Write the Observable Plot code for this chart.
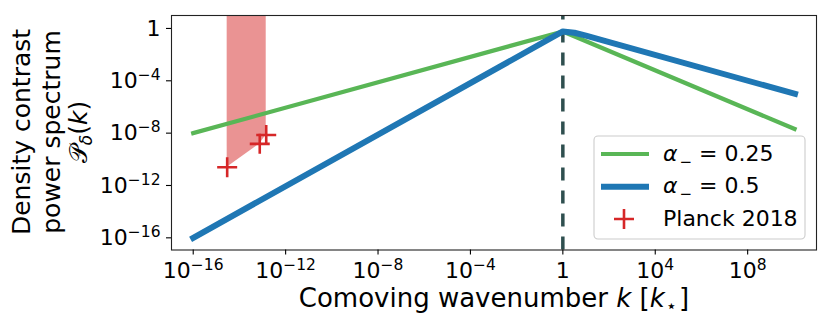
<!DOCTYPE html>
<html><head><meta charset="utf-8">
<script src="https://cdn.jsdelivr.net/npm/d3@7"></script>
<script src="https://cdn.jsdelivr.net/npm/@observablehq/plot@0.6"></script>
<style>body{margin:0;background:#fff} svg{font-family:"DejaVu Sans",sans-serif}</style>
</head><body><div id="chart"></div>
<script>
// ---- data ----
const kGreen = [1e-16, 1, 10 ** 10.03];
const pGreen = [10 ** -8.0, 10 ** -0.23, 10 ** -7.68];
const kBlue = [1e-16, 1, 10 ** 0.5, 10 ** 1, 10 ** 1.5, 10 ** 10.05];
const pBlue = [10 ** -16, 10 ** -0.23, 10 ** -0.33, 10 ** -0.55, 10 ** -0.8, 10 ** -5.0];
const planckK = [10 ** -14.53, 10 ** -13.12, 10 ** -12.84];
const planckP = [10 ** -10.61, 10 ** -8.82, 10 ** -8.14];
const kStar = [1];
const seriesNames = ["0.25", "0.5"];
const planckName = "Planck 2018";
const xTicks = [1e-16, 1e-12, 1e-8, 1e-4, 1, 1e4, 1e8];
const xTickLabels = ["10^−16", "10^−12", "10^−8", "10^−4", "1", "10^4", "10^8"];
const yTicks = [1e-16, 1e-12, 1e-8, 1e-4, 1];
const yTickLabels = ["10^−16", "10^−12", "10^−8", "10^−4", "1"];

const GREEN = "#59b656", BLUE = "#1f77b4", RED = "#d62728", DASH = "#2f4f4f";
const xDomain = [10 ** -16.94, 10 ** 10.98];
const yDomain = [10 ** -16.93, 10 ** 0.99];

const green = kGreen.map((k, i) => ({k, p: pGreen[i]}));
const blue = kBlue.map((k, i) => ({k, p: pBlue[i]}));
const planck = planckK.map((k, i) => ({k, p: planckP[i]}));

const plus = {draw(ctx, size) { const h = Math.sqrt(size / Math.PI); ctx.moveTo(-h, 0); ctx.lineTo(h, 0); ctx.moveTo(0, -h); ctx.lineTo(0, h); }};

const plot = Plot.plot({
  width: 830, height: 325,
  marginLeft: 171, marginRight: 14, marginTop: 15, marginBottom: 75.5,
  style: {fontFamily: "DejaVu Sans, sans-serif", fontSize: "22px", color: "#000", background: "#fff", overflow: "visible"},
  x: {type: "log", domain: xDomain},
  y: {type: "log", domain: yDomain},
  marks: [
    Plot.areaY(planck, {x: "k", y1: "p", y2: () => 1e4, fill: RED, fillOpacity: 0.5, clip: true, curve: "linear"}),
    Plot.ruleX(kStar, {x: d => d, y1: yDomain[0], y2: yDomain[1], stroke: DASH, strokeWidth: 3.5, strokeDasharray: "13,10"}),
    Plot.line(green, {x: "k", y: "p", stroke: GREEN, strokeWidth: 4.2, strokeLinecap: "square", strokeLinejoin: "round"}),
    Plot.line(blue, {x: "k", y: "p", stroke: BLUE, strokeWidth: 6, strokeLinecap: "square", strokeLinejoin: "round", curve: "linear"}),
    Plot.dot(planck, {x: "k", y: "p", r: 10, symbol: plus, stroke: RED, strokeWidth: 2.6, fill: "none"}),
    Plot.frame({stroke: "#222", strokeWidth: 1.1}),
    Plot.axisX({ticks: xTicks, tickFormat: d => xTickLabels[xTicks.indexOf(d)], tickSize: 5, tickPadding: 7, fontSize: 22, label: null, stroke: "#000", strokeWidth: 1.1}),
    Plot.axisY({ticks: yTicks, tickFormat: d => yTickLabels[yTicks.indexOf(d)], tickSize: 5, tickPadding: 6, fontSize: 22, label: null, stroke: "#000", strokeWidth: 1.1})
  ]
});

const NS = "http://www.w3.org/2000/svg";
plot.querySelectorAll('g[aria-label="x-axis tick label"] text, g[aria-label="y-axis tick label"] text').forEach(t => {
  const s = t.textContent;
  if (!s.includes("^")) return;
  const [b, e] = s.split("^");
  t.textContent = "";
  const t1 = document.createElementNS(NS, "tspan"); t1.textContent = b; t.appendChild(t1);
  const t2 = document.createElementNS(NS, "tspan"); t2.setAttribute("dy", "-8"); t2.setAttribute("font-size", "15.5"); t2.textContent = e; t.appendChild(t2);
});

const svg = d3.select(plot);
// x label
const xl = svg.append("text").attr("x", 494).attr("y", 307).attr("text-anchor", "middle").attr("font-size", 26).attr("fill", "#000");
xl.append("tspan").text("Comoving wavenumber ");
xl.append("tspan").attr("font-style", "italic").text("k");
xl.append("tspan").text(" [");
xl.append("tspan").attr("font-style", "italic").text("k");
xl.append("tspan").attr("font-size", 18).attr("dy", 5).attr("dx", 1).text("⋆");
xl.append("tspan").attr("dy", -5).attr("dx", 2).text("]");

// y label (rotated, three lines)
const yc = 132;
const yl = svg.append("g").attr("fill", "#000").attr("font-size", 25).attr("text-anchor", "middle");
yl.append("text").attr("transform", `translate(30,${yc}) rotate(-90)`).text("Density contrast");
yl.append("text").attr("transform", `translate(60,${yc}) rotate(-90)`).text("power spectrum");
const y3 = yl.append("text").attr("transform", `translate(87,${yc}) rotate(-90)`);
y3.append("tspan").text("𝒫");
y3.append("tspan").attr("font-size", 17).attr("dy", 5).attr("font-style", "italic").text("δ");
y3.append("tspan").attr("dy", -5).text("(");
y3.append("tspan").attr("font-style", "italic").text("k");
y3.append("tspan").text(")");

// legend
const lg = svg.append("g").attr("text-anchor", "start");
lg.append("rect").attr("x", 594).attr("y", 136).attr("width", 211).attr("height", 103).attr("rx", 4)
  .attr("fill", "#fff").attr("fill-opacity", 0.8).attr("stroke", "#cccccc").attr("stroke-width", 1.1);
[[GREEN, 4.2, 154, 160.7, seriesNames[0]], [BLUE, 6, 186.7, 193.3, seriesNames[1]]].forEach(([c, w, ly, by, name]) => {
  lg.append("line").attr("x1", 601).attr("x2", 649).attr("y1", ly).attr("y2", ly).attr("stroke", c).attr("stroke-width", w);
  const t = lg.append("text").attr("x", 663).attr("y", by).attr("font-size", 22).attr("fill", "#000").attr("text-anchor", "start");
  t.append("tspan").attr("font-style", "italic").text("α");
  t.append("tspan").attr("font-size", 15).attr("dy", 6).attr("dx", 2).text("−");
  t.append("tspan").attr("dy", -6).text(" = " + name);
});
lg.append("path").attr("d", "M614,219H634M624,209V229").attr("stroke", RED).attr("stroke-width", 2.6).attr("fill", "none");
lg.append("text").attr("x", 663).attr("y", 226).attr("font-size", 22).attr("fill", "#000").attr("text-anchor", "start").text(planckName);

document.getElementById("chart").appendChild(plot);
</script>
</body></html>
